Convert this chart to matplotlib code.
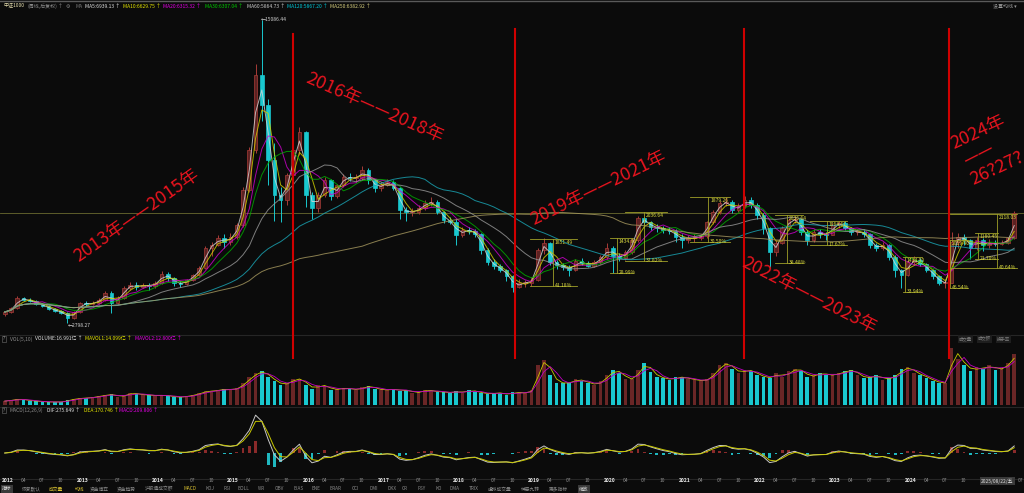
import numpy as np
import pandas as pd
import matplotlib
matplotlib.use("Agg")
import matplotlib.pyplot as plt
import matplotlib.transforms as mtransforms
from matplotlib.lines import Line2D

plt.rcParams['font.family'] = ['Noto Sans CJK SC', 'DejaVu Sans']
plt.rcParams['axes.unicode_minus'] = False

# one bar per month from 2012-01
first_open = 3150
closes = [3244, 3406, 3812, 3731, 3690, 3568, 3487, 3366, 3285, 3204, 3001, 3244,
          3609, 3568, 3609, 3731, 4015, 3609, 3812, 4217, 4339, 4258, 4339, 4298,
          4420, 4785, 4623, 4420, 4379, 4542, 4744, 5028, 5839, 5961, 6245, 6083,
          6285, 6772, 8191, 9813, 12854, 11638, 9408, 7988, 7786, 8799, 9813, 10543,
          7988, 7461, 7988, 8597, 7948, 8394, 8718, 8678, 8678, 9002, 8597, 8272,
          8394, 8516, 8272, 7380, 7299, 7299, 7461, 7664, 7705, 7299, 6975, 6894,
          6366, 6569, 6529, 6407, 5758, 5272, 5110, 4947, 4704, 4258, 4420, 4420,
          4542, 5758, 6042, 5272, 5150, 5069, 4947, 5312, 5231, 5110, 5272, 5474,
          5839, 5515, 5434, 5677, 6164, 7056, 6894, 6691, 6650, 6569, 6529, 6285,
          6164, 6245, 6245, 6326, 6894, 7299, 7664, 7705, 7380, 7542, 7786, 7583,
          7177, 6650, 5677, 6042, 6650, 6975, 7015, 6488, 6164, 6488, 6407, 6366,
          6772, 6853, 6650, 6488, 6488, 6407, 5961, 5839, 5961, 5474, 4947, 4744,
          5272, 5353, 5191, 4947, 4704, 4420, 4420, 6083, 6285, 6164, 5839, 6164,
          5961, 6042, 6002, 6042, 6245, 7250]
highs = [3300, 3450, 3880, 3860, 3800, 3720, 3610, 3520, 3420, 3330, 3240, 3280,
         3650, 3700, 3680, 3800, 4080, 4100, 3900, 4280, 4450, 4480, 4400, 4420,
         4500, 4900, 4880, 4680, 4500, 4600, 4800, 5100, 5900, 6100, 6350, 6400,
         6450, 6850, 8300, 9950, 13300, 15086, 11900, 10100, 8300, 8900, 9950, 10750,
         10600, 8100, 8100, 8700, 8650, 8450, 8850, 8900, 8850, 9150, 9100, 8650,
         8500, 8650, 8600, 8300, 7500, 7450, 7600, 7800, 7900, 7800, 7350, 7100,
         7000, 6700, 6700, 6600, 6450, 5850, 5400, 5200, 5000, 4750, 4600, 4550,
         4650, 5850, 6250, 6100, 5350, 5250, 5150, 5400, 5450, 5300, 5350, 5550,
         6050, 5900, 5650, 5750, 6250, 7150, 7100, 6950, 6800, 6750, 6700, 6600,
         6400, 6350, 6400, 6400, 6950, 7400, 7750, 7900, 7800, 7650, 7950, 7900,
         7650, 7250, 6700, 6150, 6750, 7050, 7150, 7050, 6550, 6600, 6600, 6500,
         6850, 6950, 6950, 6700, 6600, 6600, 6450, 6050, 6100, 6000, 5550, 5000,
         5350, 5500, 5450, 5250, 5000, 4750, 4550, 6500, 6450, 6400, 6200, 6300,
         6250, 6200, 6150, 6150, 6300, 7350]
lows = [3100, 3200, 3380, 3680, 3640, 3520, 3430, 3330, 3240, 3150, 2798, 2950,
        3220, 3500, 3520, 3560, 3700, 3204, 3560, 3780, 4150, 4150, 4200, 4150,
        4200, 4380, 4500, 4300, 4250, 4330, 4500, 4700, 5000, 5500, 5900, 5850,
        5950, 6200, 6700, 8100, 9700, 11000, 8400, 6950, 6900, 7600, 8700, 9600,
        7500, 7000, 7300, 7900, 7800, 7850, 8300, 8550, 8500, 8600, 8450, 8100,
        8150, 8350, 8200, 7000, 6950, 7150, 7200, 7400, 7550, 7200, 6850, 6800,
        5950, 6300, 6400, 6300, 5600, 5150, 5000, 4850, 4500, 4050, 4200, 4250,
        4300, 4500, 5600, 5150, 5000, 4950, 4700, 4900, 5150, 5050, 5050, 5200,
        5400, 4826, 5300, 5350, 5600, 6100, 6700, 6550, 6500, 6450, 6400, 6100,
        5850, 6050, 6100, 6150, 6250, 6800, 7200, 7550, 7250, 7300, 7450, 7450,
        7000, 6400, 5069, 5500, 6000, 6550, 6850, 6350, 5950, 6100, 6250, 6150,
        6350, 6650, 6550, 6350, 6350, 6300, 5850, 5700, 5750, 5350, 4650, 4217,
        4700, 5150, 5100, 4850, 4600, 4350, 4217, 4400, 5850, 5950, 5400, 5750,
        5700, 5850, 5900, 5950, 6000, 6200]
volumes = [1.3, 1.7, 2.0, 1.7, 1.3, 1.3, 1.0, 1.0, 1.0, 1.0, 1.7, 2.0,
           2.3, 2.3, 2.6, 3.0, 3.3, 3.6, 2.6, 3.3, 4.0, 3.6, 3.3, 3.3,
           3.0, 3.3, 3.0, 2.6, 2.6, 3.0, 3.3, 4.0, 4.6, 4.6, 5.0, 5.3,
           5.0, 5.6, 7.3, 9.2, 10.6, 11.2, 9.2, 7.9, 6.6, 7.3, 8.6, 8.6,
           6.6, 5.3, 6.6, 6.3, 5.0, 5.3, 5.6, 5.3, 5.0, 5.9, 6.3, 5.3,
           5.0, 5.0, 5.3, 4.6, 5.0, 4.0, 4.3, 5.0, 4.6, 4.3, 4.3, 4.0,
           4.6, 4.0, 5.0, 4.3, 4.0, 3.6, 4.0, 4.0, 3.3, 4.3, 4.0, 4.0,
           5.0, 13.2, 14.9, 9.9, 7.3, 7.3, 7.3, 8.6, 7.9, 7.3, 6.6, 7.9,
           9.9, 11.6, 10.6, 8.6, 8.6, 11.6, 13.9, 10.9, 9.2, 8.9, 8.3, 9.2,
           9.2, 8.6, 8.3, 7.9, 8.6, 10.6, 13.2, 13.9, 11.9, 10.6, 11.6, 11.2,
           9.9, 9.2, 8.9, 10.6, 9.2, 11.2, 11.9, 11.2, 9.2, 9.9, 10.6, 9.9,
           9.9, 10.6, 11.2, 11.6, 9.9, 8.9, 9.2, 9.9, 8.3, 8.9, 9.9, 11.9,
           12.5, 10.6, 9.9, 8.9, 7.9, 7.3, 7.3, 18.8, 15.2, 13.2, 11.2, 12.5,
           11.9, 13.2, 11.6, 12.2, 13.9, 17.0]

ma_names = ["MA5", "MA10", "MA20", "MA30", "MA60", "MA120", "MA250"]
ma_values = ["6939.13", "6629.75", "6315.32", "6307.04", "5864.73", "5867.20", "6382.92"]
ma_windows = [2, 3, 5, 7, 14, 28, 58]   # weekly periods expressed in months
ma_colors = ["#d8d8d8", "#d4d400", "#d000d0", "#00b000", "#9a9a9a", "#1aa8b8", "#a89a60"]
ma_text_colors = ["#e0e0e0", "#e6e600", "#e600e6", "#00cc00", "#cfcfcf", "#00c8d8", "#d8d080"]

# period marks (bar index of the red separators) and the handwritten notes
split_bars = [45.97, 81.38, 117.9, 150.6]
notes = [("2013年——2015年", 137, 215, 35), ("2016年——2018年", 375, 108, -24),
         ("2019年——2021年", 598, 188, 26), ("2022年——2023年", 809, 295, -27),
         ("2024年", 978, 132, 25), ("——", 978, 154, 27), ("26?27?", 997, 168, 25)]

# range measurements: x left, x right, x of vertical, top, bottom, labels
measures = [(83.8, 91.3, 87.4, 6204, 4298, "1851.49", "41.18%"),
            (96.5, 100.2, 97.6, 6245, 4826, "1434.90", "28.99%"),
            (98.9, 105.6, 102.0, 7299, 5312, "2036.64", "37.82%"),
            (109.3, 115.7, 112.2, 7907, 6083, "1879.26", "30.50%"),
            (122.8, 127.3, 124.8, 7177, 5231, "2036.64", "38.48%"),
            (128.4, 134.3, 131.1, 6934, 5961, "1064.61", "17.67%"),
            (143.3, 146.3, 143.6, 5474, 4055, "1434.90", "33.94%"),
            (150.4, 153.6, 150.8, 6164, 4217, "2019.40", "46.54%"),
            (154.7, 158.4, 155.2, 6448, 5393, "1180.45", "21.70%"),
            (150.8, 161.4, 158.3, 7218, 5028, "2118.03", "40.64%")]

BG = "#0b0b0b"
RED = "#e8141e"
W, H = 1024, 493
FS = 3.6

n = len(closes)
x = np.arange(n)
c = np.array(closes, float)
o = np.array([first_open] + closes[:-1], float)
hi = np.array(highs, float)
lo = np.array(lows, float)
vol = np.array(volumes, float)
up = c >= o

fig = plt.figure(figsize=(W / 100, H / 100), dpi=100, facecolor=BG)


def fxy(px, py):
    return px / W, 1 - py / H


ax = fig.add_axes([0, 1 - 333 / H, 1, 321 / H])
axv = fig.add_axes([0, 1 - 405 / H, 1, 62 / H], sharex=ax)
axm = fig.add_axes([0, 1 - 478 / H, 1, 64 / H], sharex=ax)
for a in (ax, axv, axm):
    a.axis("off")
ax.set_xlim(-0.76, 162.56)
ax.set_ylim(2392, 15409)

# candles
face = np.where(up, "#5c2222", "#19c8cf")
edge = np.where(up, "#a83c38", "#19c8cf")
ax.vlines(x, np.minimum(lo, np.minimum(o, c)), np.maximum(hi, np.maximum(o, c)),
          colors=edge, lw=0.7, zorder=3)
body = np.maximum(np.abs(c - o), 30)
ax.bar(x, body, 0.58, bottom=np.minimum(o, c), color=face, edgecolor=edge,
       linewidth=0.5, zorder=4)

s = pd.Series(c)
for w, col in zip(ma_windows, ma_colors):
    ax.plot(x, s.rolling(w, min_periods=1).mean(), color=col, lw=0.7, alpha=0.8, zorder=5)

ax.axhline(c[-1], color="#6a6a30", lw=0.6, zorder=2)

ax.text(40.9, 15086, "←15086.44", color="#d0d0d0", fontsize=FS, ha="left", va="center")
ax.text(10.1, 2798, "←2798.27", color="#d0d0d0", fontsize=FS, ha="left", va="top")

for xl, xr, xv, top, bot, tl, bl in measures:
    kw = dict(color="#a0a028", lw=0.6, zorder=6)
    ax.plot([xl, xr], [top, top], **kw)
    ax.plot([xl, xr], [bot, bot], **kw)
    ax.plot([xv, xv], [top, bot], **kw)
    ax.text(xv + 0.3, top - 40, tl, color="#dada40", fontsize=FS, ha="left", va="top", zorder=7)
    ax.text(xv + 0.3, bot, bl, color="#dada40", fontsize=FS, ha="left", va="center", zorder=7)

# volume
axv.set_ylim(0, 20.5)
axv.bar(x, vol, 0.58, color=np.where(up, "#6a2626", "#19c8cf"), linewidth=0)
vs = pd.Series(vol)
axv.plot(x, vs.rolling(2, min_periods=1).mean(), color="#c8c800", lw=0.6)
axv.plot(x, vs.rolling(3, min_periods=1).mean(), color="#c000c0", lw=0.6)

# MACD
ema_f = s.ewm(span=3, adjust=False).mean()
ema_s = s.ewm(span=6, adjust=False).mean()
dif = ema_f - ema_s
dea = dif.ewm(span=2, adjust=False).mean()
hist = 2 * (dif - dea)
top = dif.max() * 1.03
axm.set_ylim(-0.64 * top, top)
axm.bar(x, hist, 0.45, color=np.where(hist >= 0, "#8a2a2a", "#1fb8c0"), linewidth=0)
axm.plot(x, dif, color="#c8c8c8", lw=0.7)
axm.plot(x, dea, color="#c8c800", lw=0.7)

# red period separators and notes
tr = mtransforms.blended_transform_factory(ax.transData, fig.transFigure)
for i, xb in enumerate(split_bars):
    y0 = 34 if i == 0 else 29
    fig.add_artist(Line2D([xb, xb], [1 - y0 / H, 1 - 358 / H], transform=tr,
                          color="#d00000", lw=1.5, zorder=8))
for txt, cx, cy, rot in notes:
    fig.text(*fxy(cx, cy), txt, color=RED, fontsize=13, rotation=rot,
             rotation_mode="anchor", ha="center", va="center", zorder=9)

# header rows
fig.add_artist(Line2D([0, 1], [1 - 0.6 / H] * 2, color="#5a5a5a", lw=1))
hdr = [("中证1000", 3, "#e8e0b0"), ("(周线,后复权)", 27, "#8a8a8a"), ("↑", 58, "#8a8a8a"),
       ("⚙", 66, "#8a8a8a"), ("MA", 75, "#7a7a7a")]
hx = [85, 123, 163, 205, 247, 287, 330]
for t, px, col in hdr:
    fig.text(*fxy(px, 6), t, color=col, fontsize=FS, ha="left", va="center")
for name, val, px, col in zip(ma_names, ma_values, hx, ma_text_colors):
    fig.text(*fxy(px, 6), f"{name}:{val} ↑", color=col, fontsize=FS, ha="left", va="center")
fig.text(*fxy(993, 6), "设置均线 ▾", color="#9a9a9a", fontsize=FS, ha="left", va="center")

for yy in (335, 407, 479):
    fig.add_artist(Line2D([0, 1], [1 - yy / H] * 2, color="#262626", lw=0.8))

fig.text(*fxy(3, 339), "?", color="#9a9a9a", fontsize=3.4, ha="left", va="center",
         bbox=dict(facecolor="none", edgecolor="#5a5a5a", pad=0.6, lw=0.5))
for t, px, col in [("VOL(5,10)", 10, "#8a8a8a"), ("VOLUME:16.991亿 ↑", 35, "#e0e0e0"),
                   ("MAVOL1:14.099亿 ↑", 85, "#e6e600"), ("MAVOL2:12.800亿 ↑", 135, "#e600e6")]:
    fig.text(*fxy(px, 339), t, color=col, fontsize=FS, ha="left", va="center")
for t, px in [("成交量", 959), ("成交额", 978), ("换手率", 997)]:
    fig.text(*fxy(px, 339), t, color="#7a7a7a", fontsize=3.2, ha="left", va="center",
             bbox=dict(facecolor="#1e1e1e", edgecolor="none", pad=0.8))

fig.text(*fxy(3, 410), "?", color="#9a9a9a", fontsize=3.4, ha="left", va="center",
         bbox=dict(facecolor="none", edgecolor="#5a5a5a", pad=0.6, lw=0.5))
for t, px, col in [("MACD(12,26,9)", 10, "#8a8a8a"), ("DIF:275.649 ↑", 47, "#e0e0e0"),
                   ("DEA:170.746 ↑", 84, "#e6e600"), ("MACD:209.806 ↑", 119, "#e600e6")]:
    fig.text(*fxy(px, 410), t, color=col, fontsize=FS, ha="left", va="center")

# time axis (the 2025 labels sit under the date box, as in the app)
trx = mtransforms.blended_transform_factory(axm.transData, fig.transFigure)
for yr in range(2012, 2026):
    base = (yr - 2012) * 12 - 0.5
    fig.text(base, 1 - 481 / H, str(yr), transform=trx, color="#e8e8e8", fontsize=FS,
             ha="left", va="center", fontweight="bold")
    months = (("04", 3), ("07", 6), ("10", 9)) if yr < 2025 else (("07", 6),)
    for m, k in months:
        fig.text(base + k, 1 - 481 / H, m, transform=trx, color="#8a8a8a", fontsize=FS,
                 ha="left", va="center")
fig.text(*fxy(981, 481), "2025/08/22/五", color="#e0e0e0", fontsize=3.5, ha="left",
         va="center", zorder=10, bbox=dict(facecolor="#3a3a3a", edgecolor="none", pad=0.8))

tabs = [("指标", 2, "#e0e0e0"), ("恢复默认", 22, "#8a8a8a"), ("成交量", 49, "#d8c030"),
        ("均线", 75, "#d8c030"), ("资金博弈", 90, "#8a8a8a"), ("资金趋势", 117, "#8a8a8a"),
        ("沪股通成交额", 145, "#8a8a8a"), ("MACD", 183, "#d8c030"), ("KDJ", 205, "#8a8a8a"),
        ("RSI", 223, "#8a8a8a"), ("BOLL", 238, "#8a8a8a"), ("WR", 258, "#8a8a8a"),
        ("OBV", 275, "#8a8a8a"), ("BIAS", 293, "#8a8a8a"), ("ENE", 312, "#8a8a8a"),
        ("BRAR", 330, "#8a8a8a"), ("CCI", 352, "#8a8a8a"), ("DMI", 370, "#8a8a8a"),
        ("DKX", 387, "#8a8a8a"), ("CR", 402, "#8a8a8a"), ("PSY", 418, "#8a8a8a"),
        ("KD", 436, "#8a8a8a"), ("DMA", 450, "#8a8a8a"), ("TRIX", 469, "#8a8a8a"),
        ("虚拟成交量", 488, "#8a8a8a"), ("神奇九转", 521, "#8a8a8a"), ("更多指标", 549, "#8a8a8a"),
        ("缩放", 579, "#e0e0e0")]
for t, px, col in tabs:
    box = None
    if t in ("指标", "缩放"):
        box = dict(facecolor="#3a3a3a", edgecolor="none", pad=0.8)
    fig.text(*fxy(px, 489), t, color=col, fontsize=3.4, ha="left", va="center", bbox=box)

fig.savefig("out.png", dpi=100, facecolor=BG)
